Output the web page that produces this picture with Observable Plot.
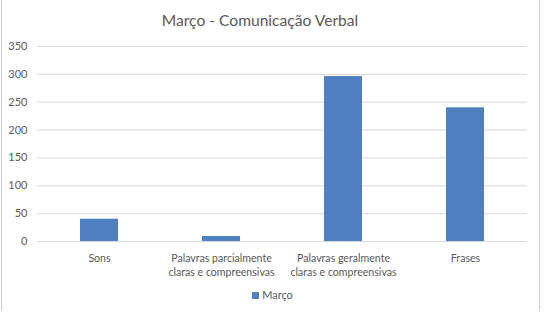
<!DOCTYPE html>
<html>
<head>
<meta charset="utf-8">
<script src="https://cdn.jsdelivr.net/npm/d3@7"></script>
<script src="https://cdn.jsdelivr.net/npm/@observablehq/plot@0.6"></script>
<style>
  html, body { margin: 0; padding: 0; background: #fff; }
  #wrap { position: relative; width: 545px; height: 313px; overflow: hidden; font-family: Lato, "Open Sans", sans-serif; }
  #frame { position: absolute; left: 1px; top: -2px; width: 539px; height: 313px; border-left: 1px solid #d0d0d0; border-right: 1px solid #d0d0d0; box-sizing: border-box; }
  #title { position: absolute; left: 0; width: 520px; top: 11px; text-align: center; font-size: 15.6px; color: #595959; }
  #chart { position: absolute; left: 0; top: 0; }
  #legend { position: absolute; left: 0; width: 545px; top: 288px; text-align: center; font-size: 11px; color: #595959; }
  #legend .sw { display: inline-block; width: 7px; height: 7px; background: #4F7FBE; margin-right: 3px; vertical-align: 0px; }
</style>
</head>
<body>
<div id="wrap">
  <div id="frame"></div>
  <div id="chart"></div>
  <div id="title">Março - Comunicação Verbal</div>
  <div id="legend"><span class="sw"></span>Março</div>
</div>
<script>
const categories = [
  "Sons",
  "Palavras parcialmente\nclaras e compreensivas",
  "Palavras geralmente\nclaras e compreensivas",
  "Frases"
];
const values = [40, 9, 296, 240];
const yTicks = [0, 50, 100, 150, 200, 250, 300, 350];
const seriesName = "Março";

const data = categories.map((c, i) => ({category: c, value: values[i], series: seriesName}));

const chart = Plot.plot({
  width: 545,
  height: 313,
  marginTop: 46,
  marginBottom: 72,
  marginLeft: 37,
  marginRight: 18,
  style: {fontFamily: "Lato, 'Open Sans', sans-serif", fontSize: "11px", color: "#595959", background: "transparent"},
  x: {domain: categories, paddingInner: 0.687, paddingOuter: 0.3435, label: null},
  y: {domain: [0, 350], ticks: yTicks, label: null},
  marks: [
    Plot.gridY(yTicks, {stroke: "#d9d9d9", strokeOpacity: 1}),
    Plot.barY(data, {x: "category", y: "value", fill: "#4F7FBE"}),
    Plot.axisY(yTicks, {tickSize: 0, tickPadding: 10, fill: "#595959", fontSize: 11}),
    Plot.axisX({tickSize: 0, tickPadding: 11, fill: "#595959", fontSize: 10.6, lineHeight: 1.3})
  ]
});
document.getElementById("chart").appendChild(chart);
</script>
</body>
</html>
